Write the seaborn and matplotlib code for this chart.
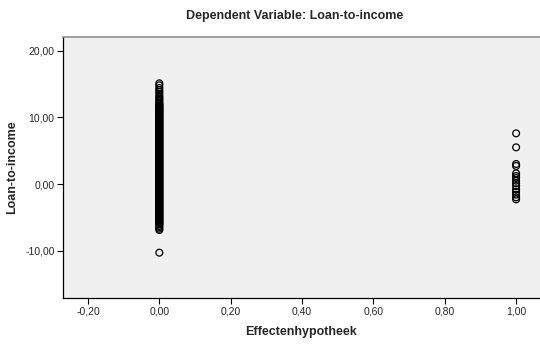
import matplotlib
matplotlib.use("Agg")
import matplotlib.pyplot as plt
from matplotlib.ticker import FuncFormatter
import pandas as pd
import seaborn as sns

# Loan-to-income values for households without an Effectenhypotheek (0)
lti_group0 = [
    -10.3,
    -6.9, -6.7, -6.5, -6.3, -6.1,
    -6.0, -5.9, -5.8, -5.7, -5.6, -5.5, -5.4, -5.3, -5.2, -5.1,
    -5.0, -4.9, -4.8, -4.7, -4.6, -4.5, -4.4, -4.3, -4.2, -4.1,
    -4.0, -3.9, -3.8, -3.7, -3.6, -3.5, -3.4, -3.3, -3.2, -3.1,
    -3.0, -2.9, -2.8, -2.7, -2.6, -2.5, -2.4, -2.3, -2.2, -2.1,
    -2.0, -1.9, -1.8, -1.7, -1.6, -1.5, -1.4, -1.3, -1.2, -1.1,
    -1.0, -0.9, -0.8, -0.7, -0.6, -0.5, -0.4, -0.3, -0.2, -0.1,
    0.0, 0.1, 0.2, 0.3, 0.4, 0.5, 0.6, 0.7, 0.8, 0.9,
    1.0, 1.1, 1.2, 1.3, 1.4, 1.5, 1.6, 1.7, 1.8, 1.9,
    2.0, 2.1, 2.2, 2.3, 2.4, 2.5, 2.6, 2.7, 2.8, 2.9,
    3.0, 3.1, 3.2, 3.3, 3.4, 3.5, 3.6, 3.7, 3.8, 3.9,
    4.0, 4.1, 4.2, 4.3, 4.4, 4.5, 4.6, 4.7, 4.8, 4.9,
    5.0, 5.1, 5.2, 5.3, 5.4, 5.5, 5.6, 5.7, 5.8, 5.9,
    6.0, 6.1, 6.2, 6.3, 6.4, 6.5, 6.6, 6.7, 6.8, 6.9,
    7.0, 7.1, 7.2, 7.3, 7.4, 7.5, 7.6, 7.7, 7.8, 7.9,
    8.0, 8.1, 8.2, 8.3, 8.4, 8.5, 8.6, 8.7, 8.8, 8.9,
    9.0, 9.1, 9.2, 9.3, 9.4, 9.5, 9.6, 9.7, 9.8, 9.9,
    10.0, 10.1, 10.2, 10.3, 10.4, 10.5, 10.6, 10.7, 10.8, 10.9,
    11.0, 11.1, 11.2, 11.3, 11.4, 11.5, 11.6, 11.7, 11.8, 11.9,
    12.0, 12.2, 12.4, 12.6, 12.8, 13.0, 13.2, 13.5, 13.8, 14.1,
    14.4, 14.8, 15.1,
]

# Loan-to-income values for households with an Effectenhypotheek (1)
lti_group1 = [7.6, 5.5, 3.0, 2.7, 1.6, 1.2, 0.9, 0.5, 0.1, -0.3, -0.8, -1.2, -1.6, -2.0, -2.3]

x_ticks = [-0.2, 0.0, 0.2, 0.4, 0.6, 0.8, 1.0]
y_ticks = [-10, 0, 10, 20]

df = pd.DataFrame({
    "Effectenhypotheek": [0.0] * len(lti_group0) + [1.0] * len(lti_group1),
    "Loan-to-income": lti_group0 + lti_group1,
})

sns.set_style("white")
plt.rcParams["font.family"] = ["Liberation Sans", "DejaVu Sans"]

fig = plt.figure(figsize=(5.4, 3.45), dpi=100)
ax = fig.add_axes([63 / 540, 47 / 345, 477 / 540, 261 / 345])
ax.set_facecolor("#f0f0f0")

sns.scatterplot(
    data=df, x="Effectenhypotheek", y="Loan-to-income", ax=ax,
    marker="o", s=24, facecolors="none", edgecolor="black", linewidth=0.9,
)

ax.set_xlim(-0.27, 1.067)
ax.set_ylim(-17.1, 22.05)
ax.set_xticks(x_ticks)
ax.set_yticks(y_ticks)
comma = FuncFormatter(lambda v, p: f"{v:.2f}".replace(".", ",").replace("-0,00", "0,00"))
ax.xaxis.set_major_formatter(comma)
ax.yaxis.set_major_formatter(comma)
ax.tick_params(axis="both", direction="out", length=4, width=0.8, color="black",
               labelsize=7.5, pad=2, left=True, bottom=True)

for side in ("left", "bottom"):
    ax.spines[side].set_color("black")
    ax.spines[side].set_linewidth(0.9)
ax.spines["top"].set_color("#909090")
ax.spines["top"].set_linewidth(1.2)
ax.spines["right"].set_visible(False)

ax.set_xlabel("Effectenhypotheek", fontsize=9, fontweight="bold", labelpad=7)
ax.set_ylabel("Loan-to-income", fontsize=9, fontweight="bold", labelpad=5)
fig.suptitle("Dependent Variable: Loan-to-income", fontsize=9, fontweight="bold",
             x=295 / 540, y=1 - 16 / 345, va="center")

fig.savefig("out.png", dpi=100)
